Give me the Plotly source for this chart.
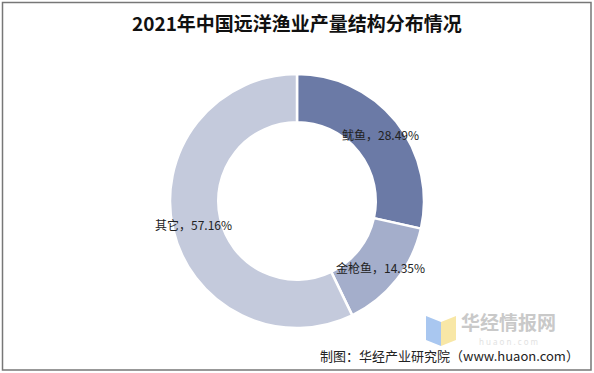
import math
import plotly.graph_objects as go

categories = ["鱿鱼", "金枪鱼", "其它"]
values = [28.49, 14.35, 57.16]
colors = ["#6b7aa6", "#a4aecb", "#c4cadc"]
title_text = "2021年中国远洋渔业产量结构分布情况"
source_text = "制图：华经产业研究院（www.huaon.com）"

W, H = 594, 373
cx, cy, R = 297, 201, 127
hole = 0.62

fig = go.Figure(go.Pie(
    labels=categories, values=values, sort=False, direction="clockwise",
    rotation=0, hole=hole,
    marker=dict(colors=colors, line=dict(color="white", width=2.5)),
    textinfo="none", hoverinfo="label+percent", showlegend=False,
    domain=dict(x=[(cx - R) / W, (cx + R) / W], y=[1 - (cy + R) / H, 1 - (cy - R) / H]),
))

# labels placed at ring middle, along each slice's mid angle
total = sum(values)
cum = 0
r_lab = R * 0.84
for cat, v in zip(categories, values):
    mid = (cum + v / 2) / total * 2 * math.pi
    cum += v
    px = cx + r_lab * math.sin(mid)
    py = cy - r_lab * math.cos(mid)
    fig.add_annotation(x=px / W, y=1 - py / H, xref="paper", yref="paper",
                       xanchor="center", yanchor="middle",
                       text=f"{cat}，{v:.2f}%", showarrow=False,
                       font=dict(size=12, color="#222", family="Noto Sans CJK SC"))

fig.add_annotation(x=0.5, y=1 - 22 / H, xref="paper", yref="paper", text=f"<b>{title_text}</b>",
                   xanchor="center", yanchor="middle",
                   showarrow=False, font=dict(size=19, color="#111", family="Noto Sans CJK SC"))

# watermark logo
fig.add_shape(type="path", xref="paper", yref="paper",
              path=f"M {426/W} {1-316/H} L {441/W} {1-322/H} L {441/W} {1-346/H} L {426/W} {1-340/H} Z",
              fillcolor="#a9c7f0", line=dict(width=0))
fig.add_shape(type="path", xref="paper", yref="paper",
              path=f"M {441/W} {1-322/H} L {456/W} {1-316/H} L {456/W} {1-340/H} L {441/W} {1-346/H} Z",
              fillcolor="#f8e7a6", line=dict(width=0))
fig.add_annotation(x=508 / W, y=1 - 321 / H, xref="paper", yref="paper", text="<b>华经情报网</b>",
                   xanchor="center", yanchor="middle",
                   showarrow=False, font=dict(size=19, color="#c9c9c9", family="Noto Sans CJK SC"))
fig.add_annotation(x=508 / W, y=1 - 341 / H, xref="paper", yref="paper", text="h u a o n . c o m",
                   xanchor="center", yanchor="middle",
                   showarrow=False, font=dict(size=8, color="#e2e2e2", family="Noto Sans"))

fig.add_annotation(x=581 / W, y=1 - 355 / H, xref="paper", yref="paper", text=source_text,
                   xanchor="right", yanchor="middle", showarrow=False,
                   font=dict(size=13, color="#222", family="Noto Sans CJK SC"))

# border
fig.add_shape(type="rect", xref="paper", yref="paper", x0=2.5 / W, x1=591 / W, y0=1 - 370 / H, y1=1 - 2.5 / H,
              line=dict(color="#777", width=1.5), fillcolor="rgba(0,0,0,0)")

fig.update_layout(width=W, height=H, margin=dict(l=0, r=0, t=0, b=0),
                  paper_bgcolor="white", plot_bgcolor="white")
fig.write_html("out.html", config={"displayModeBar": False},
               post_script="document.body.style.margin='0';document.body.style.overflow='hidden';")
